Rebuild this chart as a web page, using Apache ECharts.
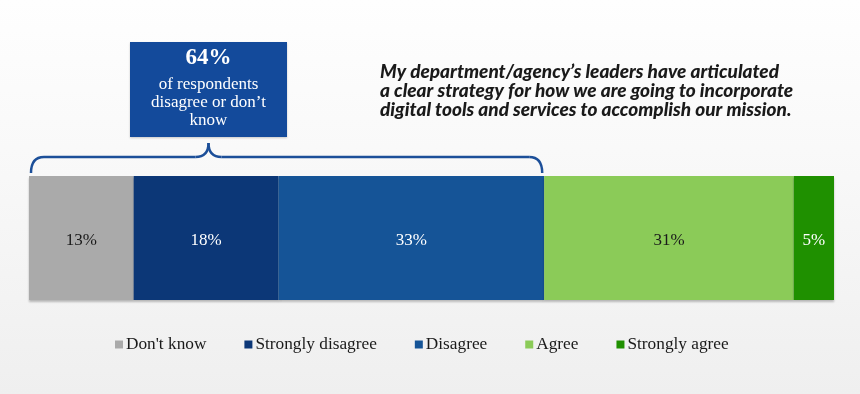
<!DOCTYPE html>
<html><head><meta charset="utf-8">
<script src="https://cdn.jsdelivr.net/npm/echarts@6/dist/echarts.min.js"></script>
<style>html,body{margin:0;padding:0;}#c{width:860px;height:394px;}</style>
</head><body><div id="c"></div>
<script>
const categories = ['Response'];
const seriesNames = ["Don't know", 'Strongly disagree', 'Disagree', 'Agree', 'Strongly agree'];
const seriesValues = [13, 18, 33, 31, 5];
const seriesColors = ['#aaaaaa', '#0c3777', '#155497', '#8bcb58', '#1f9000'];
const labelColors = ['#1a1a1a', '#ffffff', '#ffffff', '#1a1a1a', '#ffffff'];
const titleLines = ["My department/agency\u2019s leaders have articulated", 'a clear strategy for how we are going to incorporate', 'digital tools and services to accomplish our mission.'];
const calloutValue = 64;
const calloutLines = ['of respondents', 'disagree or don\u2019t', 'know'];

const serif = '"Liberation Serif", "DejaVu Serif", serif';
const chart = echarts.init(document.getElementById('c'), null, {renderer: 'canvas'});
const option = {
  animation: false,
  backgroundColor: {
    type: 'linear', x: 0, y: 0, x2: 0, y2: 1,
    colorStops: [{offset: 0, color: '#fefefe'}, {offset: 0.45, color: '#f8f8f8'}, {offset: 1, color: '#efefef'}]
  },
  title: {
    text: titleLines.join('\n'),
    left: 375, top: 57,
    textStyle: {fontFamily: 'Lato', fontStyle: 'italic', fontWeight: 900, fontSize: 19, lineHeight: 19, color: '#1a1a1a'}
  },
  legend: {
    data: seriesNames,
    left: 110, top: 331,
    itemWidth: 8, itemHeight: 8, itemGap: 38,
    icon: 'rect',
    textStyle: {fontFamily: serif, fontSize: 17.3, color: '#1a1a1a', padding: [0, 0, 0, -2]}
  },
  grid: {left: 29, right: 26, top: 176, height: 124},
  xAxis: {type: 'value', min: 0, max: 100, show: false},
  yAxis: {type: 'category', data: categories, show: false},
  series: seriesNames.map((n, i) => ({
    name: n, type: 'bar', stack: 'all', barWidth: '100%',
    data: [seriesValues[i]],
    itemStyle: {color: seriesColors[i], shadowColor: 'rgba(0,0,0,0.25)', shadowOffsetY: 2, shadowBlur: 2},
    label: {show: true, position: 'inside', offset: [0, 3], formatter: '{c}%', fontFamily: serif, fontSize: 17, color: labelColors[i]}
  }))
};
chart.setOption(option);

const x0 = chart.convertToPixel({gridIndex: 0}, [0, 0])[0] + 2;
const x1 = chart.convertToPixel({gridIndex: 0}, [calloutValue, 0])[0] - 2;
const boxL = 130, boxR = 287, boxT = 42, boxB = 137;
const peak = (boxL + boxR) / 2;
const yl = 157, yb = 173, yt = 143, r = 13;
const st = {fill: null, stroke: '#1c4f99', lineWidth: 2.5};
const q = (ax, ay, cx, cy, bx, by) => ({type: 'bezierCurve', shape: {x1: ax, y1: ay, x2: bx, y2: by, cpx1: cx, cpy1: cy}, style: st});
const ln = (ax, ay, bx, by) => ({type: 'line', shape: {x1: ax, y1: ay, x2: bx, y2: by}, style: st});
chart.setOption({
  graphic: [
    q(x0, yb, x0, yl, x0 + r, yl),
    ln(x0 + r, yl, peak - r, yl),
    q(peak - r, yl, peak, yl, peak, yt),
    q(peak, yt, peak, yl, peak + r, yl),
    ln(peak + r, yl, x1 - r, yl),
    q(x1 - r, yl, x1, yl, x1, yb),
    {type: 'rect', shape: {x: boxL, y: boxT, width: boxR - boxL, height: boxB - boxT}, style: {fill: '#134a9b', shadowColor: 'rgba(0,0,0,0.2)', shadowBlur: 2, shadowOffsetY: 1}},
    {type: 'text', x: peak, y: boxT + 16, style: {text: calloutValue + '%', fill: '#fff', font: 'bold 23px ' + serif, align: 'center', verticalAlign: 'middle'}},
    {type: 'text', x: peak, y: boxT + 34, style: {text: calloutLines.join('\n'), fill: '#fff', font: '17px ' + serif, lineHeight: 18, align: 'center', verticalAlign: 'top'}}
  ]
});
</script></body></html>
